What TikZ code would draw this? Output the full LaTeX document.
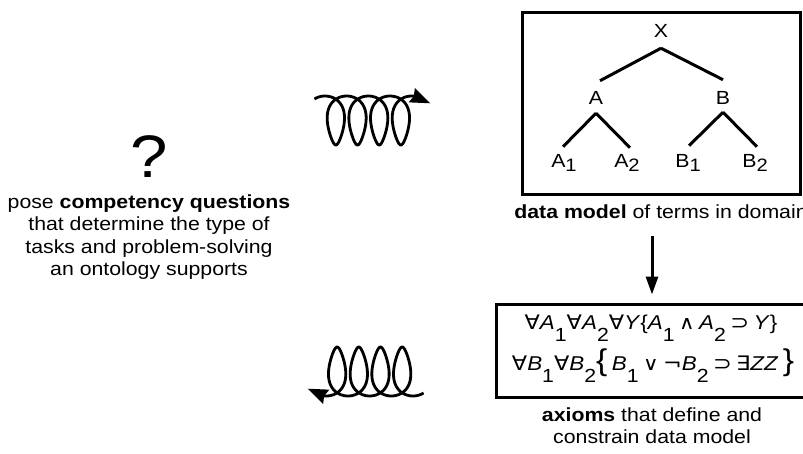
\documentclass[tikz,border=0pt]{standalone}
\usepackage{fontspec}
\setmainfont{Liberation Sans}[FakeStretch=1.12]
\newfontfamily\symfont{DejaVu Sans}[FakeStretch=1.12]
\usetikzlibrary{arrows.meta,positioning}

\newcommand{\tsub}[1]{\raisebox{-4pt}{\fontsize{18}{18}\selectfont #1}}
\newcommand{\fsub}[1]{\raisebox{-12pt}{\fontsize{19}{19}\selectfont #1}}
\newcommand{\op}[1]{{\symfont #1}}
\newcommand{\smallop}[1]{{\symfont\fontsize{19}{19}\selectfont #1}}
\newcommand{\bigbr}[1]{{\fontsize{30}{30}\selectfont #1}}

\begin{document}
\begin{tikzpicture}[
        x=1pt, y=-1pt,
        txt/.style={inner sep=0pt, align=center, font=\fontsize{19}{22.5}\selectfont},
        formula/.style={txt, anchor=base, font=\fontsize{20}{22.5}\selectfont},
        frame/.style={draw, line width=3pt},
        branch/.style={line width=3pt},
        line/.style={-{Triangle[length=18pt,width=12pt]}, line width=3pt},
        coil/.pic={
            \draw[line width=2.8pt, -{Stealth[length=20pt,width=15pt,inset=2pt]}]
                plot[domain=-0.5:25.23, samples=240, variable=\t]
                ({3.45*\t+14*sin(\t r)+2.5*sin(2*\t r)}, {24.5*(1-cos(\t r))}) -- ++(16.5,7.2);
        }
    ]
    \useasboundingbox (0,0) rectangle (803,453);
    \clip (0,0) rectangle (803,453);

    % question side
    \node[txt, font=\fontsize{60}{60}\selectfont] (quest) at (149,157) {?};
    \node[txt, below=16pt of quest] (cq) {pose \textbf{competency questions}\\that determine the type of\\tasks and problem-solving\\an ontology supports};

    \pic at (325,96) {coil};
    \pic[rotate=180] at (413,396) {coil};

    % data model tree
    \node[frame, minimum width=278pt, minimum height=182pt] (dmbox) at (661,103) {};
    \node[txt, anchor=base] (x) at (661,37) {X};
    \node[txt, anchor=base] (a) at (596,104) {A};
    \node[txt, anchor=base] (b) at (723,104) {B};
    \node[txt, anchor=base] (a1) at (564,167) {A\tsub{1}};
    \node[txt, anchor=base] (a2) at (627,167) {A\tsub{2}};
    \node[txt, anchor=base] (b1) at (688,167) {B\tsub{1}};
    \node[txt, anchor=base] (b2) at (755,167) {B\tsub{2}};
    \draw[branch] ([yshift=-11pt]x.south) -- ([xshift=4pt,yshift=10pt]a.north);
    \draw[branch] ([yshift=-11pt]x.south) -- ([yshift=11pt]b.north);
    \draw[branch] ([yshift=-9pt]a.south) -- ([xshift=-1pt,yshift=7pt]a1.north);
    \draw[branch] ([yshift=-9pt]a.south) -- ([xshift=3pt,yshift=6pt]a2.north);
    \draw[branch] ([yshift=-8pt]b.south) -- ([xshift=1pt,yshift=8pt]b1.north);
    \draw[branch] ([yshift=-8pt]b.south) -- ([xshift=2pt,yshift=7pt]b2.north);
    \node[txt, below=9.5pt of dmbox] (dmcap) {\textbf{data model} of terms in domain};

    % axioms
    \node[frame, minimum width=311pt, minimum height=93.5pt] (axbox) at (652,350.75) {};
    \node[formula] (ax1) at (651,329) {\op{∀}\textit{A}\fsub{1}\op{∀}\textit{A}\fsub{2}\op{∀}\textit{Y}\{\textit{A}\fsub{1}\:\smallop{∧}\:\textit{A}\fsub{2}\:\op{⊃}\:\textit{Y}\}};
    \node[formula] (ax2) at (653,370) {\op{∀}\textit{B}\fsub{1}\op{∀}\textit{B}\fsub{2}\bigbr{\{}\:\textit{B}\fsub{1}\:\smallop{∨}\:\op{¬}\textit{B}\fsub{2}\:\op{⊃}\:\op{∃}\textit{ZZ}\:\bigbr{\}}};
    \node[txt, below=8.5pt of axbox] (axcap) {\textbf{axioms} that define and\\constrain data model};

    \draw[line, shorten <=17pt, shorten >=8pt] (dmcap.south -| axbox.north) -- (axbox.north);
\end{tikzpicture}
\end{document}
